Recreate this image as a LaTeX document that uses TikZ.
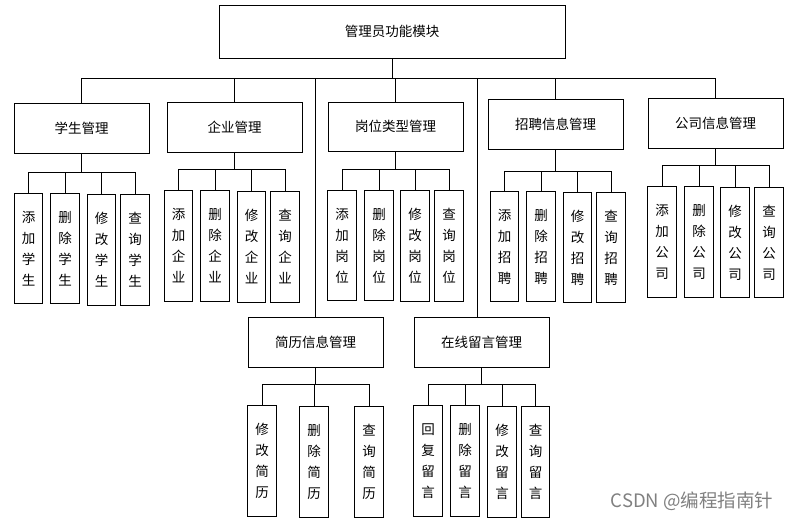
\documentclass[tikz,border=0pt]{standalone}
\usepackage{fontspec}
\newfontfamily\cjk{Noto Sans CJK SC}

\tikzset{
  box/.style = {draw, line width=0.9pt, inner sep=0pt, font=\cjk\fontsize{13.5}{16}\selectfont},
  module/.style = {box, minimum width=135pt, minimum height=50pt},
  leaf/.style = {box, minimum width=28.5pt, minimum height=110.5pt, align=center,
                 font=\cjk\fontsize{13.5}{21}\selectfont},
  link/.style = {line width=0.9pt},
}

\begin{document}
\begin{tikzpicture}[x=1pt, y=-1pt]
  \useasboundingbox (0,0) rectangle (792,520);

  \node [box, minimum width=346pt, minimum height=53pt] (admin) at (392, 31.5) {管理员功能模块};

  \node [module] (student) at (81.5, 128) {学生管理};
  \node [module] (company) at (234.5, 127) {企业管理};
  \node [module, minimum height=49pt] (post) at (395.5, 126.5) {岗位类型管理};
  \node [module] (recruit) at (555.5, 124) {招聘信息管理};
  \node [module] (firm) at (715.5, 123) {公司信息管理};
  \node [module] (resume) at (315.5, 342) {简历信息管理};
  \node [module] (message) at (481.5, 342) {在线留言管理};

  \node [leaf] (student1) at (28.5, 248.5) {添\\加\\学\\生};
  \node [leaf] (student2) at (65, 248.5) {删\\除\\学\\生};
  \node [leaf] (student3) at (101.5, 250) {修\\改\\学\\生};
  \node [leaf] (student4) at (135, 250) {查\\询\\学\\生};

  \node [leaf] (company1) at (178.5, 246) {添\\加\\企\\业};
  \node [leaf] (company2) at (215, 246) {删\\除\\企\\业};
  \node [leaf] (company3) at (251.5, 247) {修\\改\\企\\业};
  \node [leaf] (company4) at (285, 247) {查\\询\\企\\业};

  \node [leaf] (post1) at (342, 245.5) {添\\加\\岗\\位};
  \node [leaf] (post2) at (379, 245.5) {删\\除\\岗\\位};
  \node [leaf] (post3) at (415, 246) {修\\改\\岗\\位};
  \node [leaf] (post4) at (449, 246) {查\\询\\岗\\位};

  \node [leaf] (recruit1) at (504.5, 246.5) {添\\加\\招\\聘};
  \node [leaf] (recruit2) at (541, 246.5) {删\\除\\招\\聘};
  \node [leaf] (recruit3) at (577.5, 247.5) {修\\改\\招\\聘};
  \node [leaf] (recruit4) at (611, 247.5) {查\\询\\招\\聘};

  \node [leaf] (firm1) at (662, 242) {添\\加\\公\\司};
  \node [leaf] (firm2) at (699, 242) {删\\除\\公\\司};
  \node [leaf] (firm3) at (735, 242.5) {修\\改\\公\\司};
  \node [leaf] (firm4) at (769, 242.5) {查\\询\\公\\司};

  \node [leaf] (resume1) at (262, 461) {修\\改\\简\\历};
  \node [leaf] (resume2) at (314, 462) {删\\除\\简\\历};
  \node [leaf] (resume3) at (369, 462) {查\\询\\简\\历};

  \node [leaf] (message1) at (428, 461) {回\\复\\留\\言};
  \node [leaf] (message2) at (465, 461) {删\\除\\留\\言};
  \node [leaf] (message3) at (502, 462) {修\\改\\留\\言};
  \node [leaf] (message4) at (535.5, 462) {查\\询\\留\\言};

  \node [anchor=east, text=gray, font=\cjk\fontsize{18.5}{20}\selectfont] (mark) at (777, 501) {CSDN @编程指南针};

  % top level
  \foreach \m in {student, company, post, recruit, firm, resume}
    \draw [link] (admin.south) -- ++(0,20) -| (\m);
  \draw [link] (admin.south) -- ++(0,20) -| ([xshift=-4.5pt]message.north);

  % second level
  \foreach \i in {1,...,4} {
    \draw [link] (student.south) -- ++(0,19) -| (student\i);
    \draw [link] (company.south) -- ++(0,17) -| (company\i);
    \draw [link] (post.south) -- ++(0,18) -| (post\i);
    \draw [link] (recruit.south) -- ++(0,22) -| (recruit\i);
    \draw [link] (firm.south) -- ++(0,17) -| (firm\i);
    \draw [link] (message.south) -- ++(0,17) -| (message\i);
  }
  \foreach \i in {1,...,3}
    \draw [link] (resume.south) -- ++(0,17) -| (resume\i);
\end{tikzpicture}
\end{document}
